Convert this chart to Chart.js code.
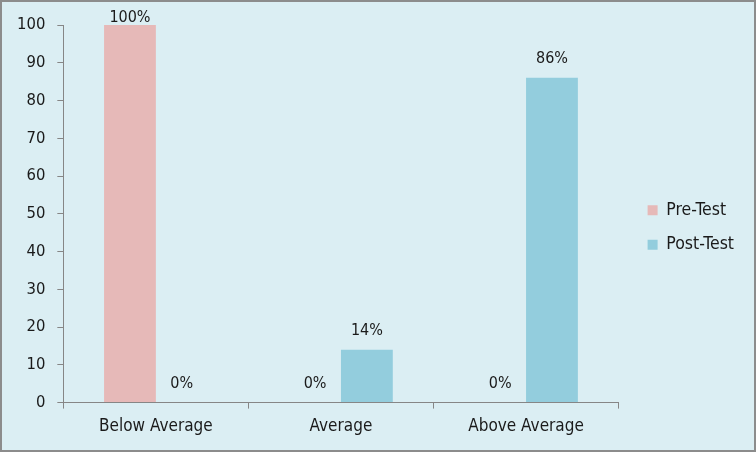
<!DOCTYPE html>
<html>
<head>
<meta charset="utf-8">
<script src="https://cdn.jsdelivr.net/npm/chart.js@4/dist/chart.umd.min.js"></script>
<style>
  html, body { margin: 0; padding: 0; }
  .chart_div {
    width: 756px; height: 452px; box-sizing: border-box;
    border: 2px solid #8c8c8c; background: #dbeef3;
  }
</style>
</head>
<body>
<div class="chart_div"><canvas id="myChart" width="752" height="448"></canvas></div>
<script>
// data
const categories = ["Below Average", "Average", "Above Average"];
const preTest = [100, 0, 0];
const postTest = [0, 14, 86];
const seriesNames = ["Pre-Test", "Post-Test"];
const yTicks = [0, 10, 20, 30, 40, 50, 60, 70, 80, 90, 100];

const fontFamily = "'DejaVu Sans Condensed', 'DejaVu Sans', sans-serif";
const axisColor = "#868686";
const legendGap = 12;

// labels like 100% over each bar
const barLabels = {
    id: "barLabels",
    afterDatasetsDraw(chart) {
        const ctx = chart.ctx;
        ctx.save();
        ctx.font = "16px " + fontFamily;
        ctx.fillStyle = "#1a1a1a";
        ctx.textAlign = "center";
        ctx.textBaseline = "middle";
        chart.data.datasets.forEach((ds, i) => {
            chart.getDatasetMeta(i).data.forEach((bar, j) => {
                const y = Math.max(bar.y - 19, 16);
                ctx.fillText(ds.data[j] + "%", bar.x, y);
            });
        });
        ctx.restore();
    }
};

// push the legend a bit away from the plot
const legendSpace = {
    id: "legendSpace",
    afterInit(chart) {
        const lg = chart.legend;
        const origFit = lg.fit;
        lg.fit = function () {
            origFit.call(this);
            this.width += legendGap;
        };
    },
    beforeDraw(chart) {
        chart.legend.left += legendGap;
        chart.legend.top -= 15;
    }
};

const ctx = document.getElementById("myChart");
const chart = new Chart(ctx, {
    type: "bar",
    data: {
        labels: categories,
        datasets: [{
            label: seriesNames[0],
            data: preTest,
            backgroundColor: "#e6b9b8",
            barPercentage: 1,
            categoryPercentage: 0.56
        }, {
            label: seriesNames[1],
            data: postTest,
            backgroundColor: "#93cddd",
            barPercentage: 1,
            categoryPercentage: 0.56
        }]
    },
    options: {
        responsive: false,
        animation: false,
        layout: { padding: { top: 23, left: 3, right: 10, bottom: 5 } },
        plugins: {
            tooltip: { enabled: false },
            legend: {
                position: "right",
                labels: {
                    boxWidth: 10, boxHeight: 10, padding: 17,
                    color: "#1a1a1a",
                    font: { family: fontFamily, size: 17.5 }
                }
            }
        },
        scales: {
            x: {
                grid: { drawOnChartArea: false, color: axisColor, tickLength: 6 },
                border: { color: axisColor, width: 1 },
                ticks: { color: "#1a1a1a", font: { family: fontFamily, size: 17 }, padding: 8 }
            },
            y: {
                min: 0, max: 100,
                afterBuildTicks: (axis) => { axis.ticks = yTicks.map(v => ({ value: v })); },
                grid: { drawOnChartArea: false, color: axisColor, tickLength: 6 },
                border: { color: axisColor, width: 1 },
                ticks: { color: "#1a1a1a", font: { family: fontFamily, size: 16.5 }, padding: 12 }
            }
        }
    },
    plugins: [barLabels, legendSpace]
});
</script>
</body>
</html>
